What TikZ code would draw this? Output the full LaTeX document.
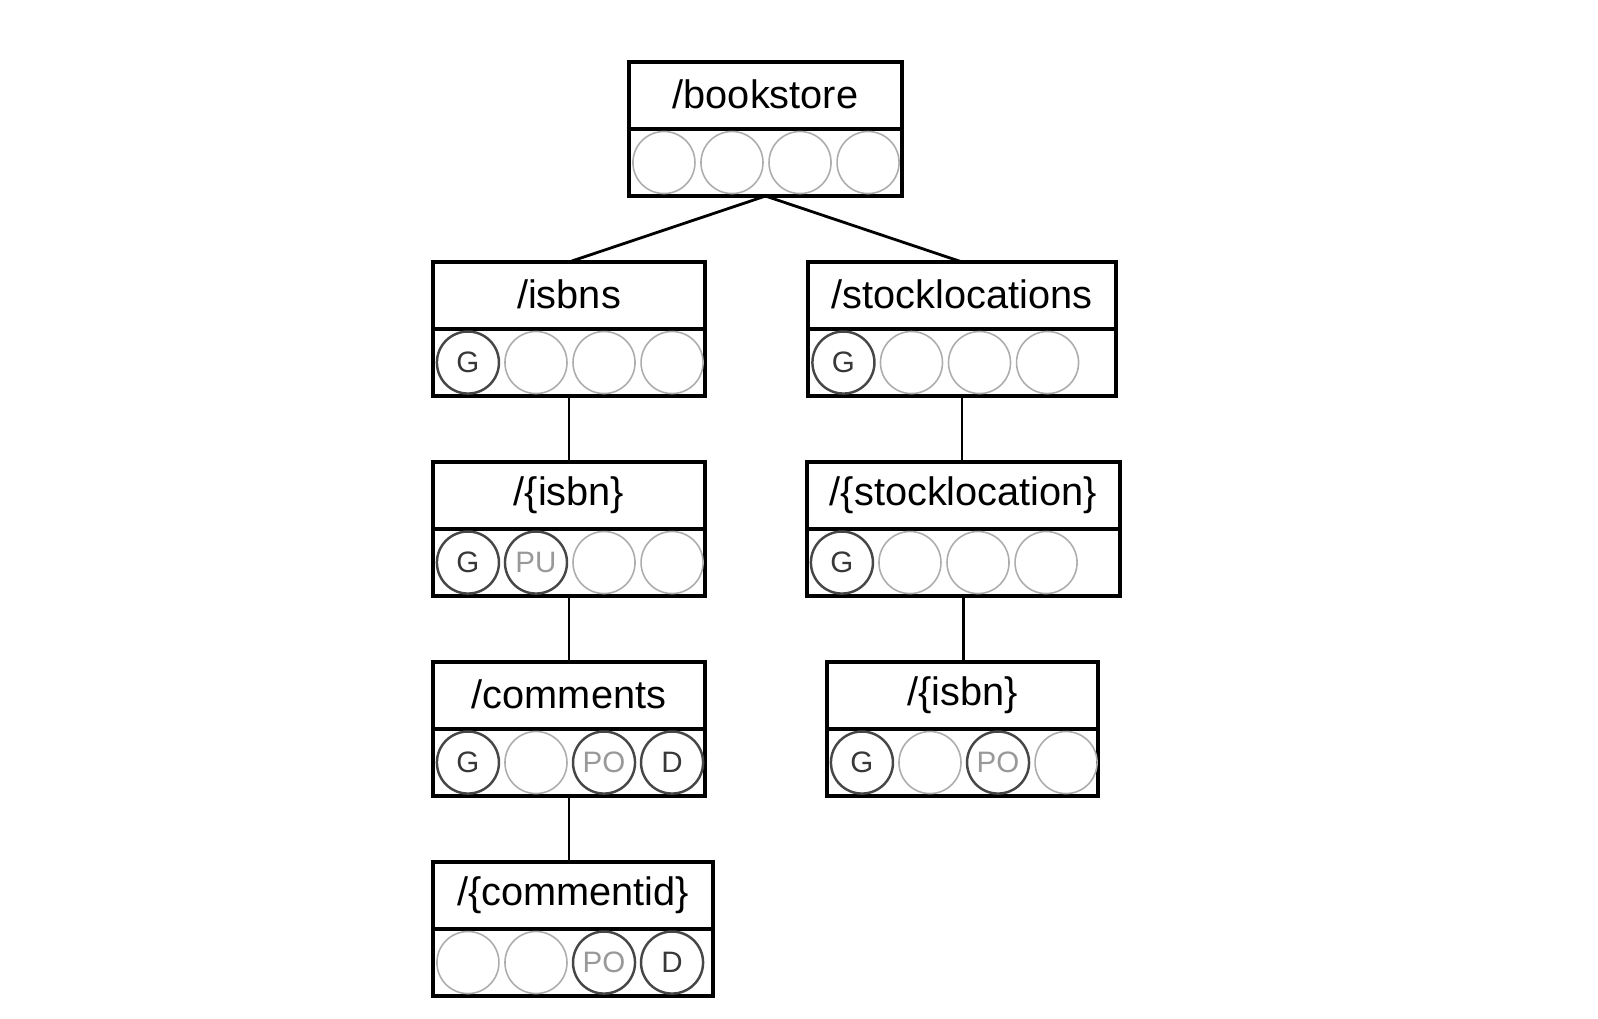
\documentclass[tikz,border=0pt]{standalone}
\usepackage{fontspec}
\setmainfont{Liberation Sans}
\usepackage{tikz}
\usetikzlibrary{positioning}

\begin{document}
\begin{tikzpicture}[x=0.01cm, y=-0.01cm]
		\useasboundingbox (0,0) rectangle (1598,1018);
		% resource boxes: path on top, method row below
		\begin{scope}[every node/.style = {rectangle, draw, line width=1.1pt, outer sep=0pt, inner sep=0pt, minimum height=0.67cm, font=\fontsize{11.3}{13}\selectfont}]
			\node[minimum width=2.73cm] (bookstore) at (765.5, 95.5) {\raisebox{0.8pt}{/bookstore}};
			\node[minimum width=2.73cm, below=0pt of bookstore] (bookstore-m) {};
			\node[minimum width=2.72cm] (isbns) at (569, 295.5) {\raisebox{0.8pt}{/isbns}};
			\node[minimum width=2.72cm, below=0pt of isbns] (isbns-m) {};
			\node[minimum width=2.72cm] (isbn) at (569, 495.5) {\raisebox{0.8pt}{/\{isbn\}}};
			\node[minimum width=2.72cm, below=0pt of isbn] (isbn-m) {};
			\node[minimum width=2.72cm] (comments) at (569, 695.5) {\raisebox{0.8pt}{/comments}};
			\node[minimum width=2.72cm, below=0pt of comments] (comments-m) {};
			\node[minimum width=2.80cm] (commentid) at (573, 895.5) {\raisebox{0.8pt}{/\{commentid\}}};
			\node[minimum width=2.80cm, below=0pt of commentid] (commentid-m) {};
			\node[minimum width=3.07cm] (stocklocations) at (962, 295.5) {\raisebox{0.8pt}{/stocklocations}};
			\node[minimum width=3.07cm, below=0pt of stocklocations] (stocklocations-m) {};
			\node[minimum width=3.13cm] (stocklocation) at (963.5, 495.5) {\raisebox{0.8pt}{/\{stocklocation\}}};
			\node[minimum width=3.13cm, below=0pt of stocklocation] (stocklocation-m) {};
			\node[minimum width=2.71cm] (stockisbn) at (962.5, 695.5) {\raisebox{0.8pt}{/\{isbn\}}};
			\node[minimum width=2.71cm, below=0pt of stockisbn] (stockisbn-m) {};
		\end{scope}
		% method circles
		\begin{scope}[every node/.style = {circle, outer sep=0pt, inner sep=0pt, minimum size=0.62cm, font=\fontsize{8.4}{9}\selectfont},
			idle/.style = {draw=black!32, line width=0.45pt},
			live/.style = {draw=black!72, line width=0.7pt, text=black!78},
			half/.style = {draw=black!72, line width=0.7pt, text=black!40}]
			\node[idle, right=0.04cm of bookstore-m.west] (bookstore-1) {};
			\node[idle, right=0.06cm of bookstore-1] (bookstore-2) {};
			\node[idle, right=0.06cm of bookstore-2] (bookstore-3) {};
			\node[idle, right=0.06cm of bookstore-3] (bookstore-4) {};

			\node[live, right=0.04cm of isbns-m.west] (isbns-1) {G};
			\node[idle, right=0.06cm of isbns-1] (isbns-2) {};
			\node[idle, right=0.06cm of isbns-2] (isbns-3) {};
			\node[idle, right=0.06cm of isbns-3] (isbns-4) {};

			\node[live, right=0.04cm of isbn-m.west] (isbn-1) {G};
			\node[half, right=0.06cm of isbn-1] (isbn-2) {PU};
			\node[idle, right=0.06cm of isbn-2] (isbn-3) {};
			\node[idle, right=0.06cm of isbn-3] (isbn-4) {};

			\node[live, right=0.04cm of comments-m.west] (comments-1) {G};
			\node[idle, right=0.06cm of comments-1] (comments-2) {};
			\node[half, right=0.06cm of comments-2] (comments-3) {PO};
			\node[live, right=0.06cm of comments-3] (comments-4) {D};

			\node[idle, right=0.04cm of commentid-m.west] (commentid-1) {};
			\node[idle, right=0.06cm of commentid-1] (commentid-2) {};
			\node[half, right=0.06cm of commentid-2] (commentid-3) {PO};
			\node[live, right=0.06cm of commentid-3] (commentid-4) {D};

			\node[live, right=0.04cm of stocklocations-m.west] (stocklocations-1) {G};
			\node[idle, right=0.06cm of stocklocations-1] (stocklocations-2) {};
			\node[idle, right=0.06cm of stocklocations-2] (stocklocations-3) {};
			\node[idle, right=0.06cm of stocklocations-3] (stocklocations-4) {};

			\node[live, right=0.04cm of stocklocation-m.west] (stocklocation-1) {G};
			\node[idle, right=0.06cm of stocklocation-1] (stocklocation-2) {};
			\node[idle, right=0.06cm of stocklocation-2] (stocklocation-3) {};
			\node[idle, right=0.06cm of stocklocation-3] (stocklocation-4) {};

			\node[live, right=0.04cm of stockisbn-m.west] (stockisbn-1) {G};
			\node[idle, right=0.06cm of stockisbn-1] (stockisbn-2) {};
			\node[half, right=0.06cm of stockisbn-2] (stockisbn-3) {PO};
			\node[idle, right=0.06cm of stockisbn-3] (stockisbn-4) {};
		\end{scope}
		% tree links
		\begin{scope}[line width=0.8pt]
			\path[draw] (bookstore-m.south) edge (isbns.north);
			\path[draw] (bookstore-m.south) edge (stocklocations.north);
			\path[draw] (isbns-m.south) edge (isbn.north);
			\path[draw] (isbn-m.south) edge (comments.north);
			\path[draw] (comments-m.south) edge (comments-m.south |- commentid.north);
			\path[draw] (stocklocations-m.south) edge (stocklocations-m.south |- stocklocation.north);
			\path[draw] (stocklocation-m.south) edge (stocklocation-m.south |- stockisbn.north);
		\end{scope}
	\end{tikzpicture}
\end{document}
